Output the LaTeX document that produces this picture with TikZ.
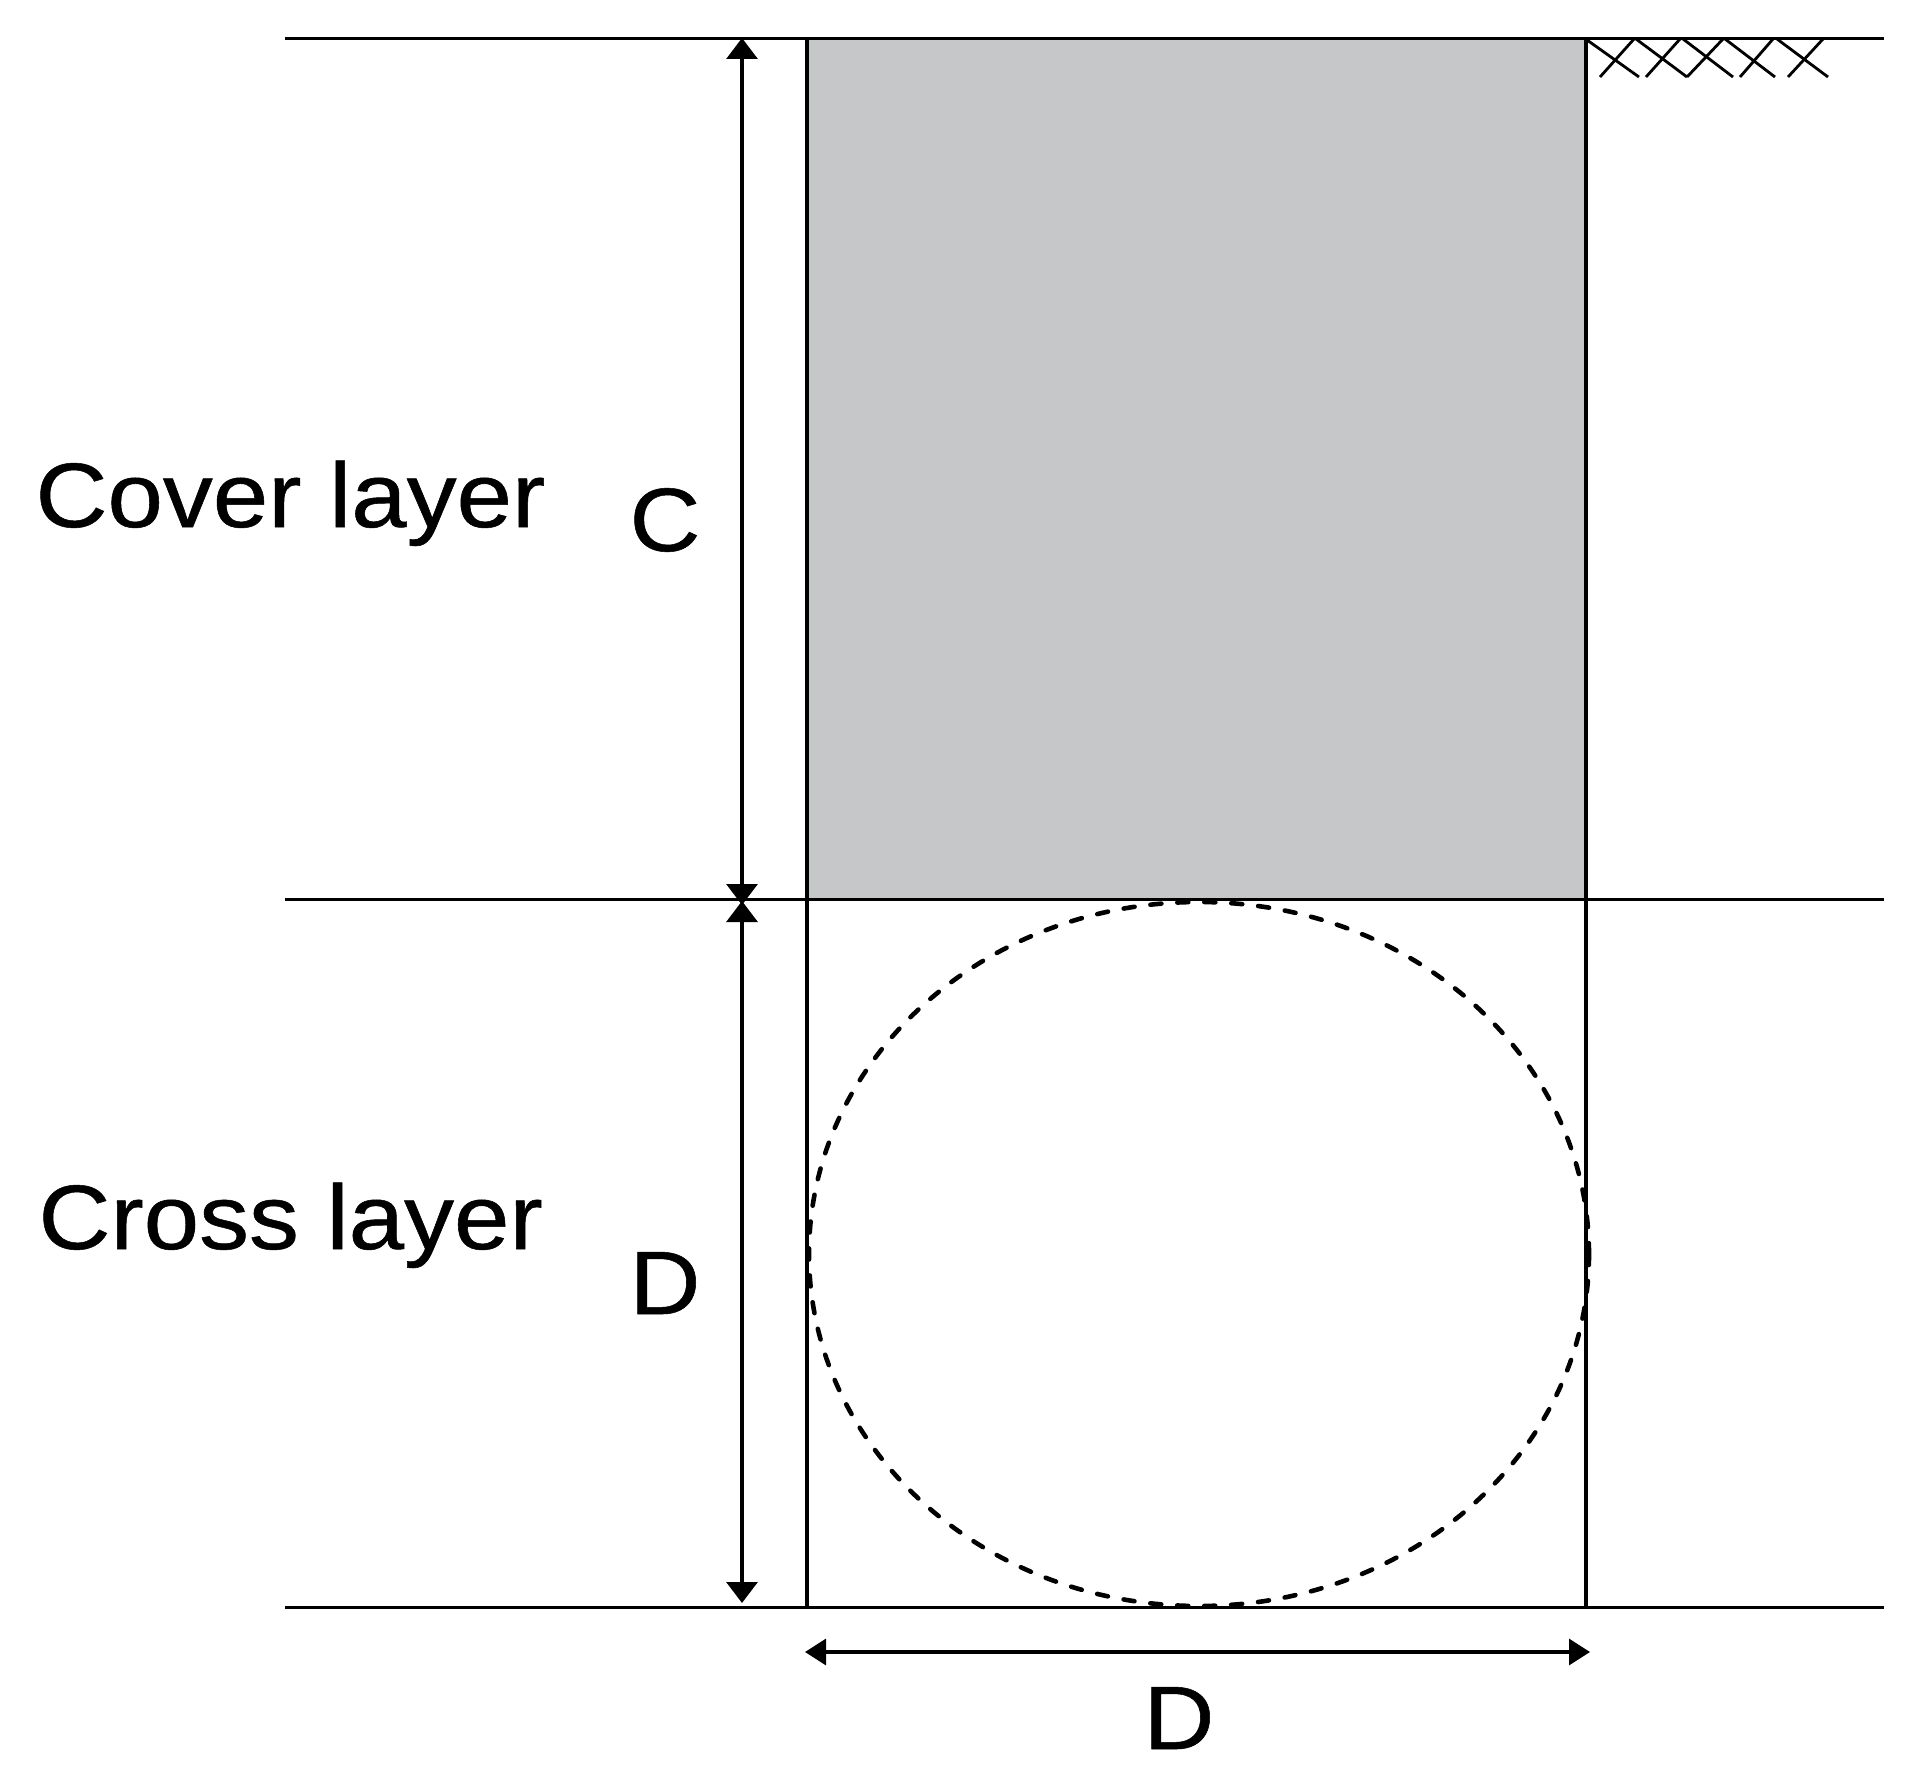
\documentclass[tikz,border=0pt]{standalone}
\usepackage{fontspec}
\setmainfont[FakeBold=0.6,FakeStretch=1.09]{Liberation Sans}
\usetikzlibrary{arrows.meta}
\definecolor{fillgray}{HTML}{C6C7C9}
\tikzset{
  thinline/.style={line width=3pt,black},
  hatchline/.style={line width=2.8pt,black},
  dimv/.style={line width=3.2pt,black,{Triangle[length=21pt,width=31pt]}-{Triangle[length=21pt,width=31pt]}},
  dimh/.style={line width=3.2pt,black,{Triangle[length=21pt,width=26pt]}-{Triangle[length=21pt,width=26pt]}},
  bigtext/.style={font=\fontsize{91.5pt}{110pt}\selectfont,inner sep=0pt,outer sep=0pt,anchor=base west},
  dimtext/.style={font=\fontsize{90pt}{110pt}\selectfont,inner sep=0pt,outer sep=0pt,anchor=base}
}
\begin{document}
\begin{tikzpicture}[x=1pt,y=-1pt]
\useasboundingbox (0,0) rectangle (1931,1784);
\coordinate (tl) at (285,38.5); \coordinate (tr) at (1884,38.5);
\coordinate (ml) at (285,899.5); \coordinate (mr) at (1884,899.5);
\coordinate (bl) at (285,1607.5); \coordinate (br) at (1884,1607.5);
\coordinate (wt) at (807,38); \coordinate (wb) at (807,1607);
\coordinate (et) at (1586,38); \coordinate (eb) at (1586,1607);
\coordinate (at) at (742,38); \coordinate (am1) at (742,905); \coordinate (am2) at (742,901); \coordinate (ab) at (742,1603);
\coordinate (hl) at (805,1652); \coordinate (hr) at (1590,1652);
\fill[fillgray] (807,38) rectangle (1586,899);
\draw[thinline] (tl) -- (tr);
\draw[thinline] (ml) -- (mr);
\draw[thinline] (bl) -- (br);
\draw[line width=3.8pt] (wt) -- (wb);
\draw[line width=3.2pt] (et) -- (eb);
\draw[dimv] (at) -- (am1);
\draw[dimv] (am2) -- (ab);
\draw[dimh] (hl) -- (hr);
\draw[line width=4.6pt,line cap=round,dash pattern=on 11pt off 16pt] (1199,1254) ellipse [x radius=390,y radius=352];
\foreach \a/\b/\c/\d in {1587/40/1639/77,1634/39/1600/77,1636/39/1687/77,1680/39/1646/77,1683/39/1733/77,1687/77/1723/39,1725/39/1775/77,1773/39/1740/77,1777/39/1828/77,1823/39/1788/77}
  \draw[hatchline] (\a,\b) -- (\c,\d);
\node[bigtext] (cover) at (35.5,527) {Cover layer};
\node[bigtext] (cross) at (38.5,1249) {Cross layer};
\node[dimtext] (c) at (665,551) {C};
\node[dimtext] (d1) at (665,1314) {D};
\node[dimtext] (d2) at (1179,1749) {D};
\end{tikzpicture}
\end{document}
